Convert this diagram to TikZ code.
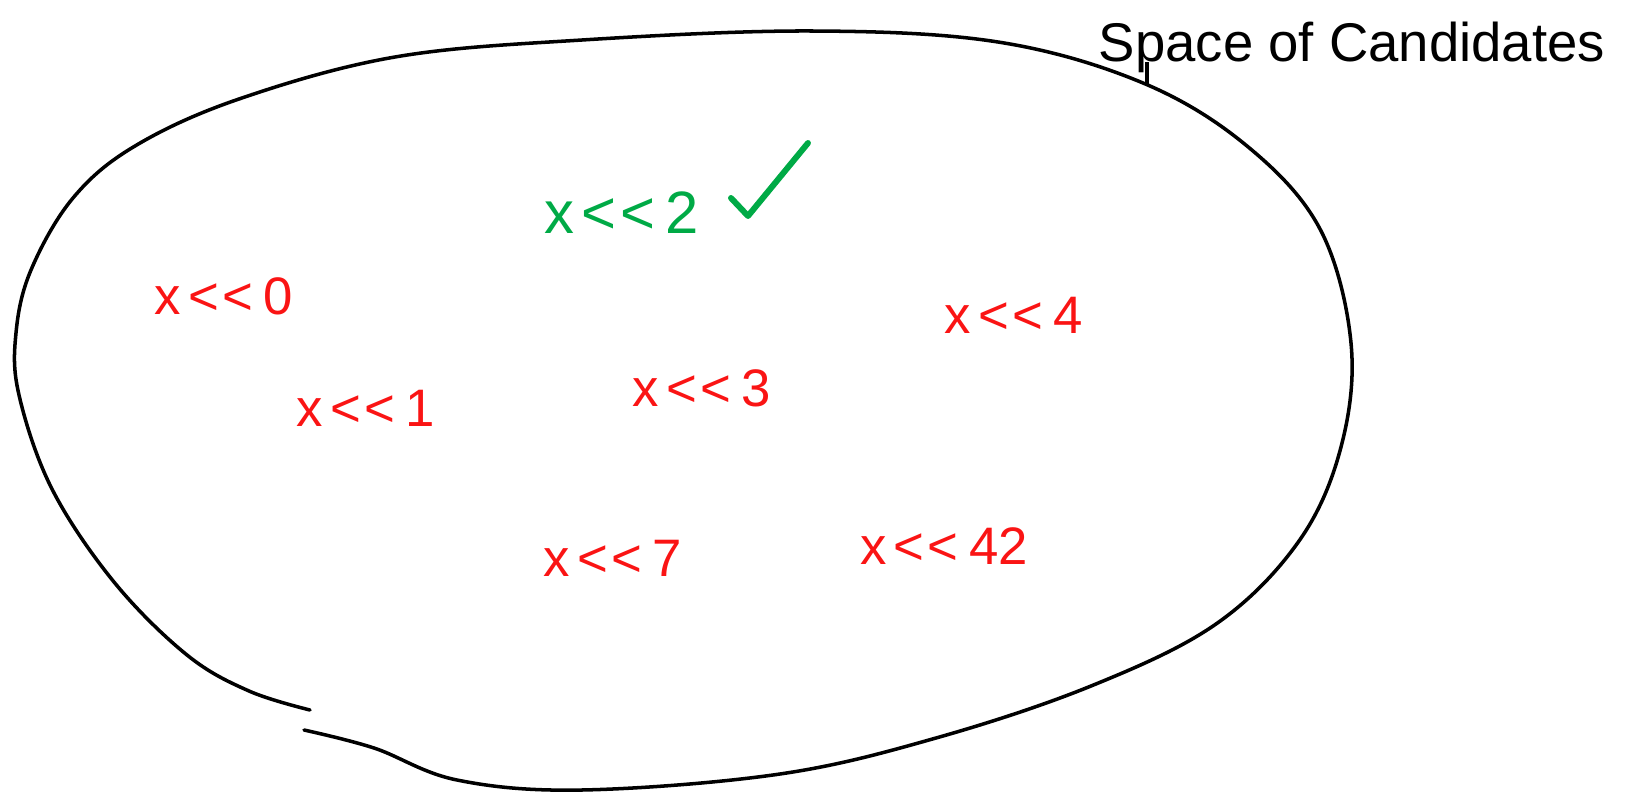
\documentclass[tikz,border=0pt]{standalone}
\usepackage{fontspec}
\usepackage{xcolor}
\usepackage{tikz}
\setmainfont{Liberation Sans}[Ligatures=TeXOff]
\definecolor{candred}{RGB}{250,20,20}
\definecolor{okgreen}{RGB}{0,170,70}
\newcommand{\candfont}{\fontsize{15}{18}\selectfont}
\newcommand{\shl}{x\kern2pt<\kern1pt<\kern3pt}

\begin{document}
\begin{tikzpicture}[x=0.01cm, y=-0.01cm, line width=1pt,
                    cand/.style={text=candred, font=\candfont},
                    ok/.style={text=okgreen, font=\fontsize{17}{20}\selectfont},
                    title/.style={font=\fontsize{15.5}{18}\selectfont, anchor=base}]
  \useasboundingbox (0,0) rectangle (1630,794);
  \draw[line cap=round] plot[smooth, tension=0.6] coordinates {
    (310,710) (249,691) (187,655) (114,582) (52,489) (19,395) (16,333)
    (31,270) (73,198) (135,146) (239,99) (395,57) (582,40) (811,31)
    (998,42) (1143,83) (1247,146) (1320,229) (1351,343) (1341,447)
    (1299,541) (1216,624) (1091,686) (936,738) (780,774) (582,790)
    (457,780) (374,748) (304,730)};
  \node[title] (title) at (1352,62) {Space of Candidates};
  \coordinate (tick) at (1147,86);
  \coordinate (tickTop) at (1147,62);
  \draw (tick) -- (tickTop);
  \node[ok] (c2) at (622,213) {\shl2};
  \draw[okgreen, line width=1.7pt, line cap=round, line join=round]
    (731,198) -- (748,216) -- (808,143);
  \node[cand] (c0) at (224,296) {\shl0};
  \node[cand] (c1) at (366,408) {\shl1};
  \node[cand] (c3) at (702,388) {\shl3};
  \node[cand] (c4) at (1014,315) {\shl4};
  \node[cand] (c7) at (613,558) {\shl7};
  \node[cand] (c42) at (944,546) {\shl42};
\end{tikzpicture}
\end{document}
